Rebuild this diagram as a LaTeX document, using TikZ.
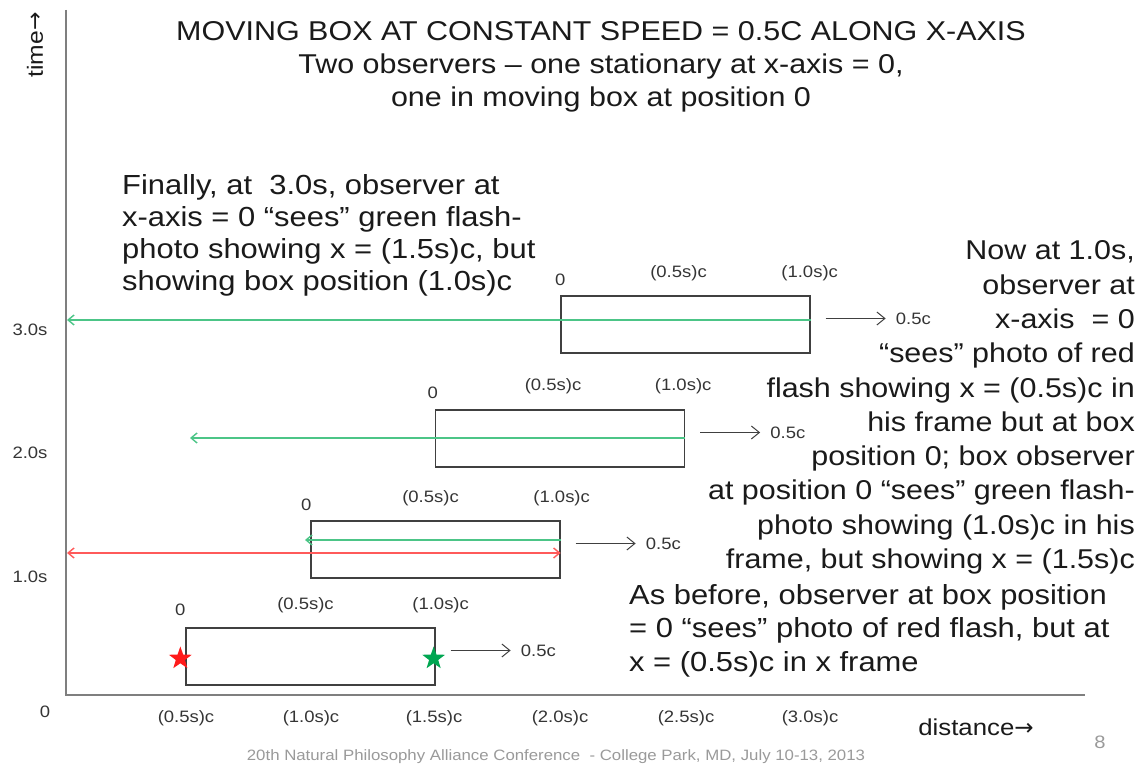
\documentclass[tikz,border=0pt]{standalone}
\usepackage{fontspec}
\setmainfont{Liberation Sans}[FakeStretch=1.12]
\newfontfamily\arrowfont{DejaVu Sans}
\usepackage{xcolor}
\usepackage{tikz}
\usetikzlibrary{positioning,arrows.meta,shapes.geometric}
\definecolor{axisgray}{HTML}{7F7F7F}
\definecolor{boxline}{HTML}{404040}
\definecolor{lblgray}{HTML}{353535}
\definecolor{flashgreen}{HTML}{4CC587}
\definecolor{flashred}{HTML}{FF5A5A}
\definecolor{starred}{HTML}{FF1A1A}
\definecolor{stargreen}{HTML}{00A651}
\definecolor{footgray}{HTML}{9A9A9A}
\definecolor{inkblack}{HTML}{1A1A1A}

\begin{document}
\begin{tikzpicture}[x=1pt, y=1pt,
  every node/.style={inner sep=0pt},
  crate/.style={draw=boxline, line width=1.3pt, minimum width=249pt, minimum height=57pt},
  ticklbl/.style={font=\fontsize{16.5}{20}\selectfont, text=lblgray},
  bodytext/.style={font=\fontsize{27.4}{33}\selectfont, text=inkblack},
  speedarrow/.style={draw=boxline, line width=1pt, -{Straight Barb[length=8pt, width=13pt]}},
  gflash/.style={draw=flashgreen, line width=1.4pt},
  rflash/.style={draw=flashred, line width=1.4pt},
  flashstar/.style={star, star points=5, star point ratio=2.5, minimum size=24pt}
]
  \fill[white] (0,0) rectangle (1143,767);
  \useasboundingbox (0,0) rectangle (1143,767);

  % Axes
  \coordinate (origin) at (66,72);
  \coordinate (ytop) at (66,757);
  \coordinate (xend) at (1085,72);
  \draw[axisgray, line width=2pt] (ytop) -- (origin) -- (xend);
  \node[rotate=90, font=\fontsize{22}{24}\selectfont, text=inkblack] (tlabel) at (35,722) {time{\arrowfont →}};
  \node[font=\fontsize{23}{25}\selectfont, text=inkblack] (dlabel) at (976,40) {distance{\arrowfont →}};

  % Time ticks
  \node[ticklbl] (t3) at (30,437) {3.0s};
  \node[ticklbl] (t2) at (30,314) {2.0s};
  \node[ticklbl] (t1) at (30,190) {1.0s};

  % Distance ticks
  \node[ticklbl] (d0) at (45,55) {0};
  \node[ticklbl] (d1) at (186,49) {(0.5s)c};
  \node[ticklbl] (d2) at (311,49) {(1.0s)c};
  \node[ticklbl] (d3) at (434,49) {(1.5s)c};
  \node[ticklbl] (d4) at (560,49) {(2.0s)c};
  \node[ticklbl] (d5) at (686,49) {(2.5s)c};
  \node[ticklbl] (d6) at (810,49) {(3.0s)c};

  % Box at 0s
  \node[crate] (boxA) at (310.5,110.5) {};
  \node[ticklbl, anchor=base] at ([xshift=-5pt, yshift=12pt]boxA.north west) {0};
  \node[ticklbl, anchor=base] at ([xshift=-5pt, yshift=18pt]boxA.north) {(0.5s)c};
  \node[ticklbl, anchor=base] at ([xshift=5pt, yshift=18pt]boxA.north east) {(1.0s)c};
  \node[ticklbl, right=85pt of boxA.east, yshift=6pt] (vA) {0.5c};
  \draw[speedarrow] ([xshift=-70pt]vA.west) -- ([xshift=-10pt]vA.west);
  \node[flashstar, fill=starred] (redstar) at ([xshift=-5pt, yshift=-2pt]boxA.west) {};
  \node[flashstar, fill=stargreen] (greenstar) at ([xshift=-2pt, yshift=-2pt]boxA.east) {};

  % Box at 1.0s
  \node[crate] (boxB) at (435.5,217.5) {};
  \node[ticklbl, anchor=base] at ([xshift=-4pt, yshift=10pt]boxB.north west) {0};
  \node[ticklbl, anchor=base] at ([xshift=-5pt, yshift=18pt]boxB.north) {(0.5s)c};
  \node[ticklbl, anchor=base] at ([xshift=1pt, yshift=18pt]boxB.north east) {(1.0s)c};
  \node[ticklbl, right=85pt of boxB.east, yshift=6pt] (vB) {0.5c};
  \draw[speedarrow] ([xshift=-70pt]vB.west) -- ([xshift=-10pt]vB.west);
  \coordinate (gB) at (305,227);
  \coordinate (rB) at (67,214);
  \draw[gflash, -{Straight Barb[length=6pt, width=10pt]}] (boxB.east |- gB) -- (gB);
  \draw[rflash, {Straight Barb[length=6pt, width=10pt]}-{Straight Barb[length=6pt, width=10pt]}] (rB) -- (boxB.east |- rB);

  % Box at 2.0s
  \node[crate] (boxC) at (560,328.5) {};
  \node[ticklbl, anchor=base] at ([xshift=-2pt, yshift=11pt]boxC.north west) {0};
  \node[ticklbl, anchor=base] at ([xshift=-7pt, yshift=19pt]boxC.north) {(0.5s)c};
  \node[ticklbl, anchor=base] at ([xshift=-2pt, yshift=19pt]boxC.north east) {(1.0s)c};
  \node[ticklbl, right=85pt of boxC.east, yshift=6pt] (vC) {0.5c};
  \draw[speedarrow] ([xshift=-70pt]vC.west) -- ([xshift=-10pt]vC.west);
  \coordinate (gC) at (190,329);
  \draw[gflash, -{Straight Barb[length=6pt, width=10pt]}] (boxC.east |- gC) -- (gC);

  % Box at 3.0s
  \node[crate] (boxD) at (685.5,442.5) {};
  \node[ticklbl, anchor=base] at ([xshift=0pt, yshift=10pt]boxD.north west) {0};
  \node[ticklbl, anchor=base] at ([xshift=-7pt, yshift=18pt]boxD.north) {(0.5s)c};
  \node[ticklbl, anchor=base] at ([xshift=-1pt, yshift=18pt]boxD.north east) {(1.0s)c};
  \node[ticklbl, right=85pt of boxD.east, yshift=6pt] (vD) {0.5c};
  \draw[speedarrow] ([xshift=-70pt]vD.west) -- ([xshift=-10pt]vD.west);
  \coordinate (gD) at (67,447);
  \draw[gflash, -{Straight Barb[length=6pt, width=10pt]}] (boxD.east |- gD) -- (gD);

  % Texts
  \node[bodytext, align=center, font=\fontsize{27.2}{33}\selectfont] (title) at (601,700)
    {MOVING BOX AT CONSTANT SPEED = 0.5C ALONG X-AXIS\\
     Two observers – one stationary at x-axis = 0,\\
     one in moving box at position 0};
  \node[bodytext, align=left, anchor=west, font=\fontsize{27.6}{32}\selectfont] (finally) at (122,532)
    {Finally, at~ 3.0s, observer at\\
     x-axis = 0 “sees” green flash-\\
     photo showing x = (1.5s)c, but\\
     showing box position (1.0s)c};
  \node[bodytext, align=right, anchor=east, font=\fontsize{27.2}{34.3}\selectfont] (nowat) at (1135,359.5)
    {Now at 1.0s,\\
     observer at\\
     x-axis~ = 0\\
     “sees” photo of red\\
     flash showing x = (0.5s)c in\\
     his frame but at box\\
     position 0; box observer\\
     at position 0 “sees” green flash-\\
     photo showing (1.0s)c in his\\
     frame, but showing x = (1.5s)c};
  \node[bodytext, align=left, anchor=west, font=\fontsize{27.6}{33.5}\selectfont] (before) at (629,136.5)
    {As before, observer at box position\\
     = 0 “sees” photo of red flash, but at\\
     x = (0.5s)c in x frame};

  % Footer
  \node[font=\fontsize{15}{17}\selectfont, text=footgray] (footer) at (556,10)
    {20th Natural Philosophy Alliance Conference~ - College Park, MD, July 10-13, 2013};
  \node[font=\fontsize{18}{20}\selectfont, text=footgray] (pageno) at (1100,25) {8};
\end{tikzpicture}
\end{document}
